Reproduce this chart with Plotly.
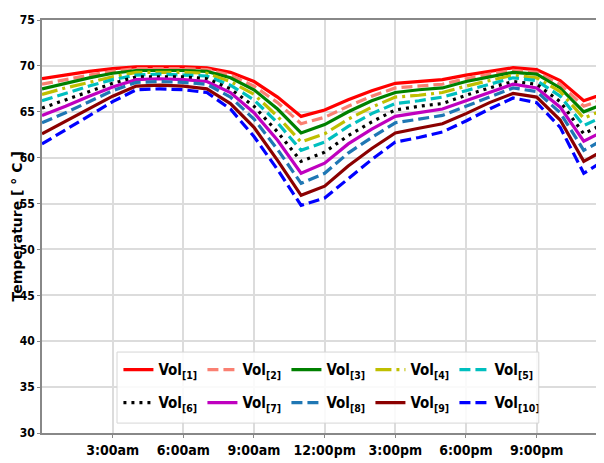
import plotly.graph_objects as go

hours = list(range(0, 25))

tick_vals = [3, 6, 9, 12, 15, 18, 21]
tick_text = ["3:00am", "6:00am", "9:00am", "12:00pm", "3:00pm", "6:00pm", "9:00pm"]

vol1 = [68.6, 69.0, 69.4, 69.7, 69.9, 69.9, 69.9, 69.8, 69.3, 68.3, 66.6, 64.5, 65.2,
        66.3, 67.3, 68.1, 68.3, 68.5, 69.0, 69.4, 69.8, 69.6, 68.4, 66.2, 67.1]
vol2 = [68.0, 68.5, 69.0, 69.4, 69.7, 69.7, 69.7, 69.6, 69.0, 67.8, 66.0, 63.7, 64.4,
        65.6, 66.7, 67.6, 67.8, 68.0, 68.6, 69.1, 69.5, 69.3, 68.0, 65.6, 66.5]
vol3 = [67.5, 68.1, 68.7, 69.2, 69.5, 69.5, 69.5, 69.4, 68.7, 67.4, 65.3, 62.7, 63.6,
        65.0, 66.2, 67.1, 67.4, 67.6, 68.3, 68.8, 69.3, 69.1, 67.6, 65.0, 66.0]
vol4 = [66.9, 67.6, 68.2, 68.8, 69.3, 69.3, 69.3, 69.2, 68.3, 66.9, 64.5, 61.7, 62.6,
        64.2, 65.5, 66.6, 66.8, 67.1, 67.8, 68.4, 69.0, 68.7, 67.2, 64.3, 65.4]
vol5 = [66.2, 67.0, 67.8, 68.5, 69.0, 69.1, 69.0, 68.9, 67.9, 66.3, 63.8, 60.8, 61.7,
        63.4, 64.8, 65.9, 66.2, 66.6, 67.3, 68.0, 68.7, 68.4, 66.7, 63.5, 64.7]
vol6 = [65.4, 66.3, 67.2, 68.1, 68.8, 68.8, 68.8, 68.6, 67.5, 65.6, 62.8, 59.6, 60.6,
        62.4, 63.9, 65.2, 65.6, 65.9, 66.8, 67.6, 68.3, 68.0, 66.1, 62.6, 63.9]
vol7 = [64.6, 65.6, 66.7, 67.7, 68.5, 68.6, 68.5, 68.3, 67.1, 64.9, 61.9, 58.3, 59.4,
        61.5, 63.1, 64.5, 64.9, 65.3, 66.2, 67.1, 68.0, 67.6, 65.5, 61.8, 63.1]
vol8 = [63.8, 64.9, 66.1, 67.3, 68.2, 68.3, 68.2, 68.0, 66.6, 64.2, 60.9, 57.2, 58.3,
        60.5, 62.2, 63.8, 64.2, 64.6, 65.6, 66.6, 67.6, 67.2, 64.9, 60.8, 62.2]
vol9 = [62.6, 64.0, 65.4, 66.7, 67.8, 67.9, 67.8, 67.5, 65.9, 63.3, 59.7, 55.9, 56.9,
        59.1, 61.0, 62.7, 63.2, 63.7, 64.8, 66.0, 67.0, 66.6, 64.1, 59.6, 61.0]
vol10 = [61.5, 63.0, 64.6, 66.1, 67.4, 67.5, 67.4, 67.1, 65.3, 62.3, 58.7, 54.8, 55.6,
         57.7, 59.8, 61.7, 62.2, 62.8, 64.0, 65.3, 66.5, 66.0, 63.3, 58.3, 59.9]

series = [vol1, vol2, vol3, vol4, vol5, vol6, vol7, vol8, vol9, vol10]
names = ["Vol<sub>[%d]</sub>" % i for i in range(1, 11)]

styles = [
    ("#FF0000", "solid"),
    ("#FA8072", "11px,5px"),
    ("#008000", "solid"),
    ("#BFBF00", "16px,5px,3px,5px"),
    ("#00BFBF", "11px,5px"),
    ("#000000", "3px,5px"),
    ("#BF00BF", "solid"),
    ("#1F77B4", "11px,5px"),
    ("#8B0000", "solid"),
    ("#0000FF", "11px,5px"),
]

fig = go.Figure()
for i, (vals, name, (color, dash)) in enumerate(zip(series, names, styles)):
    fig.add_trace(go.Scatter(
        x=hours, y=vals, mode="lines", name=name,
        legend="legend" if i < 5 else "legend2",
        line=dict(color=color, width=3.2, dash=dash),
    ))

narrow = "DejaVu Sans Condensed, Liberation Sans, sans-serif"
leg_font = dict(family=narrow, size=15, color="#000000", weight="bold")
leg_common = dict(
    orientation="h", xanchor="left", yanchor="top",
    bgcolor="rgba(0,0,0,0)", borderwidth=0,
    font=leg_font, itemwidth=30, entrywidth=39,
)

fig.update_layout(
    width=596, height=455,
    margin=dict(l=34, r=0, t=12, b=30),
    paper_bgcolor="white", plot_bgcolor="white",
    showlegend=True,
    legend=dict(x=0.136, y=0.193, **leg_common),
    legend2=dict(x=0.136, y=0.113, **leg_common),
    shapes=[dict(
        type="rect", xref="paper", yref="paper",
        x0=0.1335, x1=0.884, y0=0.024, y1=0.196,
        fillcolor="rgba(255,255,255,0.85)",
        line=dict(color="#d6d6d6", width=1), layer="above",
    )],
    annotations=[dict(
        text="Temperature [ ° C ]", textangle=-90,
        xref="paper", yref="paper", x=-0.0445, y=0.5,
        xanchor="center", yanchor="middle", showarrow=False,
        font=dict(family="DejaVu Sans", size=14, color="#000000", weight="bold"),
    )],
    xaxis=dict(
        range=[0, 23.86], tickmode="array", tickvals=tick_vals, ticktext=tick_text,
        showgrid=True, gridcolor="#dcdcdc", gridwidth=1.5,
        showline=True, linecolor="#888888", linewidth=1.5, mirror=True,
        ticks="outside", ticklen=3, tickcolor="#888888",
        tickfont=dict(family=narrow, size=14, color="#000000", weight="bold"),
        zeroline=False, automargin=False,
    ),
    yaxis=dict(
        range=[30, 75], dtick=5, tick0=30,
        showgrid=True, gridcolor="#dcdcdc", gridwidth=1.5,
        showline=True, linecolor="#888888", linewidth=1.5,
        ticks="outside", ticklen=3, tickcolor="#888888",
        tickfont=dict(family=narrow, size=12, color="#000000", weight="bold"),
        zeroline=False, automargin=False,
    ),
)

fig.write_html("out.html")
